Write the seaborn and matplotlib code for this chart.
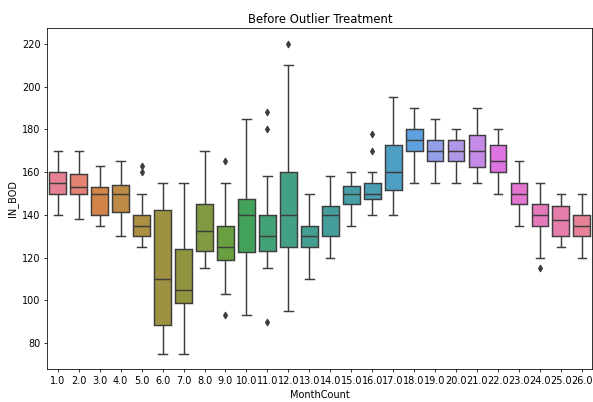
import pandas as pd
import seaborn as sns
import matplotlib
matplotlib.use("Agg")
import matplotlib.pyplot as plt

# Box statistics (IN_BOD by MonthCount)
months = [float(m) for m in range(1, 27)]
whisker_lo = [140, 138, 135, 130, 125, 75, 75, 115, 103, 93, 115, 95, 110,
              120, 135, 140, 140, 155, 155, 155, 155, 150, 135, 120, 125, 120]
q1 = [150, 150, 140, 141.5, 130, 88.7, 98.7, 123, 119, 122.5, 123, 125, 125,
      130, 145, 147.5, 151.5, 170, 165, 165, 162.5, 160, 145, 135, 130, 130]
median = [155, 153, 150, 150, 135, 110, 105, 132.5, 125, 140, 130, 140, 130,
          140, 150, 150, 160, 175, 170, 170, 170, 165, 150, 140, 137.5, 135]
q3 = [160, 159, 153, 154, 140, 142.5, 124, 145, 135, 147.5, 140, 160, 135,
      144, 153.5, 155, 172.5, 180, 175, 175, 177.5, 172.5, 155, 145, 144, 140]
whisker_hi = [170, 170, 163, 165, 150, 155, 155, 170, 155, 185, 158, 210, 150,
              158, 160, 160, 195, 190, 185, 180, 190, 180, 165, 155, 150, 150]
outliers = {5.0: [160, 163], 9.0: [165, 93], 11.0: [188, 180, 90],
            12.0: [220], 16.0: [170, 178], 24.0: [115]}

# Build observations that reproduce those quartiles and whiskers
rows = []
for i, m in enumerate(months):
    vals = [whisker_lo[i], whisker_hi[i]]
    vals += [q1[i]] * 20 + [median[i]] * 20 + [q3[i]] * 20
    vals += outliers.get(m, [])
    rows += [(m, v) for v in vals]
df = pd.DataFrame(rows, columns=['MonthCount', 'IN_BOD'])

line_gray = '#3d3d3d'
fig = plt.figure(figsize=(593 / 70, 402 / 70), dpi=70)
ax = fig.add_axes([0.0798, 0.0813, 0.919, 0.848])
sns.boxplot(x='MonthCount', y='IN_BOD', data=df, hue='MonthCount',
            palette='husl', legend=False, ax=ax, fliersize=5,
            linewidth=1.5, linecolor=line_gray,
            flierprops={'marker': 'd', 'markerfacecolor': line_gray,
                        'markeredgecolor': line_gray})
ax.set_title("Before Outlier Treatment")
fig.savefig("out.png", dpi=70)
